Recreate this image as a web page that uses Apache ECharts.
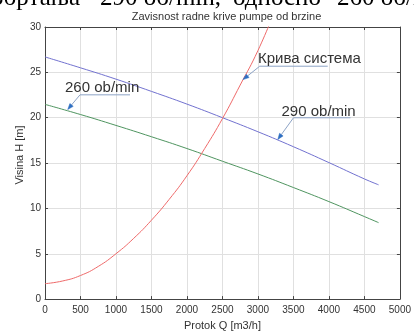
<!DOCTYPE html>
<html><head><meta charset="utf-8">
<script src="https://cdn.jsdelivr.net/npm/echarts@6/dist/echarts.min.js"></script>
<style>html,body{margin:0;padding:0;background:#fff}#c{width:414px;height:336px}</style>
</head><body><div id="c"></div>
<script>
const chartTitle = 'Zavisnost radne krive pumpe od brzine';
const xAxisName = 'Protok Q [m3/h]';
const yAxisName = 'Visina H [m]';
const xTicks = [0, 500, 1000, 1500, 2000, 2500, 3000, 3500, 4000, 4500, 5000];
const yTicks = [0, 5, 10, 15, 20, 25, 30];

const pumpQ   = [0, 500, 1000, 1500, 2000, 2500, 3000, 3500, 4000, 4500, 4700];
const head290 = [26.7, 25.5, 24.25, 22.9, 21.5, 20.0, 18.45, 16.8, 15.05, 13.25, 12.6];
const head260 = [21.47, 20.35, 19.15, 17.9, 16.6, 15.2, 13.8, 12.3, 10.75, 9.1, 8.43];

const systemQ = [0, 250, 500, 750, 1000, 1250, 1500, 1750, 2000, 2250, 2500, 2750, 3000, 3250];
const systemH = [1.7, 2.0, 2.6, 3.6, 5.0, 6.7, 8.7, 11.0, 13.6, 16.6, 19.9, 23.6, 27.4, 32.0];

const annotationLabels = ['Крива система', '290 ob/min', '260 ob/min'];
const annotationTips = [[2790, 24.2], [3280, 17.6], [320, 20.9]];

const headerFragments = ['обртања', '290 об/min,', 'односно', '260 об/min'];

const chart = echarts.init(document.getElementById('c'), null, {renderer: 'canvas'});
const FONT = '"Liberation Sans", Arial, sans-serif';
const xMin = xTicks[0], xMax = xTicks[xTicks.length - 1], xInt = xTicks[1] - xTicks[0];
const yMin = yTicks[0], yMax = yTicks[yTicks.length - 1], yInt = yTicks[1] - yTicks[0];
const axisCol = '#444';

function baseAxis(extra) {
  return Object.assign({
    type: 'value',
    axisLine: {show: true, onZero: false, lineStyle: {color: axisCol, width: 1}},
    axisTick: {show: true, inside: true, length: 3, lineStyle: {color: axisCol}},
    axisLabel: {show: false},
    splitLine: {show: false}
  }, extra);
}

chart.setOption({
  animation: false,
  backgroundColor: '#fff',
  title: {
    text: chartTitle, left: 221.5, top: 6, textAlign: 'center',
    textStyle: {fontFamily: FONT, fontSize: 11, fontWeight: 'normal', color: '#333'}
  },
  grid: {left: 45, right: 12, top: 27, bottom: 29, containLabel: false},
  xAxis: [
    baseAxis({
      position: 'bottom', min: xMin, max: xMax, interval: xInt,
      axisLabel: {show: true, fontFamily: FONT, fontSize: 10, color: '#333', margin: 6,
                  formatter: v => String(v)},
      splitLine: {show: true, lineStyle: {color: '#e0e0e0', width: 1}},
      name: xAxisName, nameLocation: 'middle', nameGap: 16,
      nameTextStyle: {fontFamily: FONT, fontSize: 11, color: '#333'}
    }),
    baseAxis({position: 'top', min: xMin, max: xMax, interval: xInt})
  ],
  yAxis: [
    baseAxis({
      position: 'left', min: yMin, max: yMax, interval: yInt,
      axisLabel: {show: true, fontFamily: FONT, fontSize: 10, color: '#333', margin: 4,
                  formatter: v => String(v)},
      splitLine: {show: true, lineStyle: {color: '#e0e0e0', width: 1}}
    }),
    baseAxis({position: 'right', min: yMin, max: yMax, interval: yInt})
  ],
  series: [
    {type: 'line', name: '290', data: pumpQ.map((q, i) => [q, head290[i]]), smooth: true,
     showSymbol: false, lineStyle: {color: '#7272d0', width: 1}, clip: true, z: 3},
    {type: 'line', name: '260', data: pumpQ.map((q, i) => [q, head260[i]]), smooth: true,
     showSymbol: false, lineStyle: {color: '#4f9560', width: 1}, clip: true, z: 3},
    {type: 'line', name: 'sistem', data: systemQ.map((q, i) => [q, systemH[i]]), smooth: true,
     showSymbol: false, lineStyle: {color: '#ee6a6a', width: 1}, clip: true, z: 3}
  ]
});

// annotation layout: pixel offsets relative to arrow tip
const annoLayout = [
  {tail: [16.7, -13.4], under: 68, text: [-1.7, -7]},
  {tail: [15.7, -21.7], under: 57, text: [-12, -6]},
  {tail: [12.3, -14.7], under: 50, text: [-15, -7]}
];
const graphics = [];
annotationLabels.forEach((label, i) => {
  const tip = chart.convertToPixel({xAxisIndex: 0, yAxisIndex: 0}, annotationTips[i]);
  const L = annoLayout[i];
  const tail = [tip[0] + L.tail[0], tip[1] + L.tail[1]];
  const dx = tip[0] - tail[0], dy = tip[1] - tail[1];
  const len = Math.sqrt(dx * dx + dy * dy);
  const ux = dx / len, uy = dy / len, nx = -uy, ny = ux;
  const ah = 6, aw = 2.2;
  const base = [tip[0] - ah * ux, tip[1] - ah * uy];
  graphics.push({
    type: 'polyline', z: 10,
    shape: {points: [[tail[0] + L.under, tail[1]], tail, base]},
    style: {stroke: '#8da3c6', lineWidth: 1, fill: null}
  });
  graphics.push({
    type: 'polygon', z: 10,
    shape: {points: [tip, [base[0] + aw * nx, base[1] + aw * ny], [base[0] - aw * nx, base[1] - aw * ny]]},
    style: {fill: '#2e6fc2', stroke: '#2e6fc2', lineWidth: 0.5}
  });
  graphics.push({
    type: 'text', z: 11, x: tail[0] + L.text[0], y: tail[1] + L.text[1],
    style: {text: label, font: '15px ' + FONT, fill: '#333', align: 'left', verticalAlign: 'middle'}
  });
});
// y axis name
graphics.push({
  type: 'text', x: 19.5, y: 155, rotation: Math.PI / 2, z: 11,
  style: {text: yAxisName, font: '11px ' + FONT, fill: '#333', align: 'center', verticalAlign: 'middle'}
});
// cropped header text from the source document
const headerX = [[80, 'right'], [100, 'left'], [233, 'left'], [337, 'left']];
headerFragments.forEach((t, i) => {
  graphics.push({
    type: 'text', x: headerX[i][0], y: -1.5, z: 12,
    style: {text: t, font: '25px "Liberation Serif", "Times New Roman", serif', fill: '#000',
            align: headerX[i][1], verticalAlign: 'middle'}
  });
});
chart.setOption({graphic: graphics});
</script>
</body></html>
